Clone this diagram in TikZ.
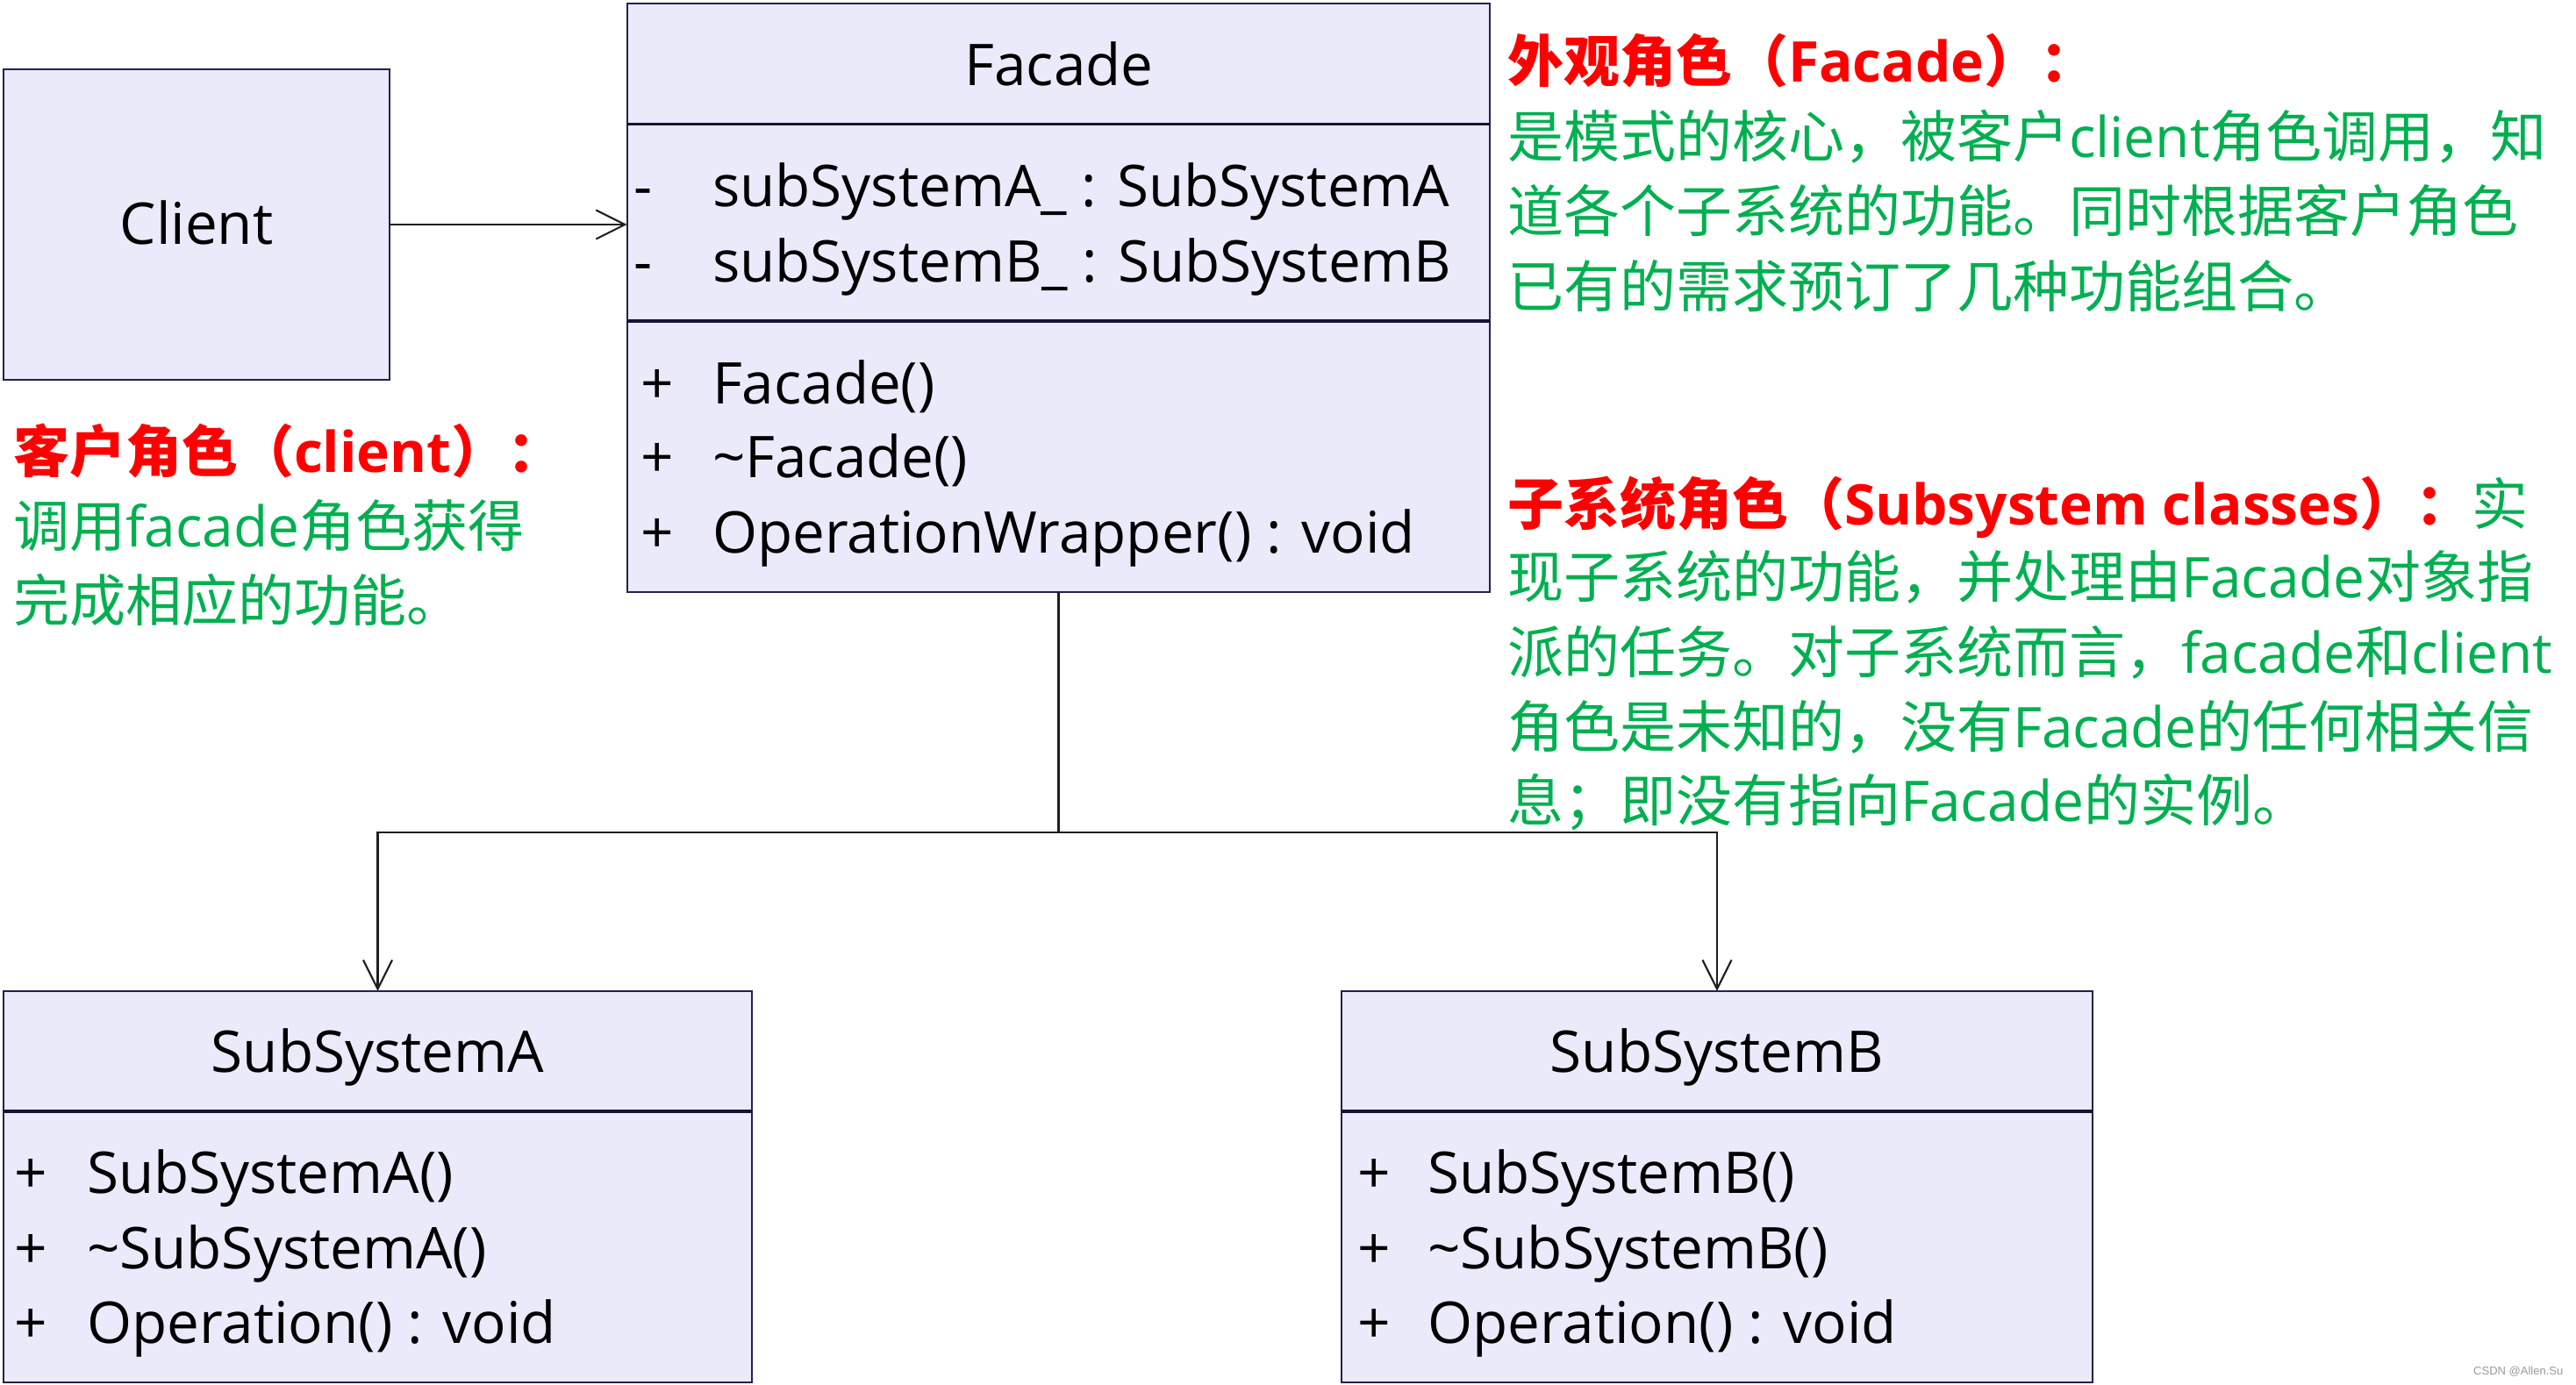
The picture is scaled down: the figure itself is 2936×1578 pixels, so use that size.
\documentclass[tikz,border=0pt]{standalone}
\usepackage{fontspec}
\setmainfont{Open Sans}
\newfontfamily\cjk{Noto Sans CJK SC}
\newfontfamily\latf{Open Sans}
\newfontfamily\wmfont{Liberation Sans}
\usetikzlibrary{arrows.meta}
\definecolor{boxfill}{HTML}{EAEAFB}
\definecolor{boxline}{HTML}{22224E}
\definecolor{divline}{HTML}{141438}
\definecolor{connc}{HTML}{1E1E1E}
\definecolor{tred}{HTML}{FF0000}
\definecolor{tgreen}{HTML}{00B050}
\definecolor{wmgray}{HTML}{9A9A9A}
\newcommand\lat[1]{{\latf #1}}
\begin{document}
\begin{tikzpicture}[x=0.01cm,y=-0.01cm,
  umlbox/.style={draw=boxline, fill=boxfill, line width=0.6pt, inner sep=0pt, outer sep=0pt},
  divider/.style={draw=divline, line width=0.9pt},
  boxtext/.style={font=\fontsize{18.65pt}{22pt}\selectfont, inner sep=0pt, outer sep=0pt, text=black},
  lbl/.style={boxtext, anchor=base west},
  conn/.style={draw=connc, line width=0.6pt},
  openarrow/.style={conn, -{Straight Barb[length=9.4pt, width=9.4pt, line width=0.6pt]}},
  nbody/.style={font=\cjk\fontsize{18.2pt}{24.5pt}\selectfont, anchor=base west, inner sep=0pt, outer sep=0pt, text=tgreen},
  ntitle/.style={font=\cjk\bfseries\fontsize{18.2pt}{24.5pt}\selectfont, anchor=base west, inner sep=0pt, outer sep=0pt, text=tred},
]
\useasboundingbox (0,0) rectangle (2936,1578);
\fill[white] (0,0) rectangle (2936,1578);

% Client
\node[umlbox, minimum width=4.40cm, minimum height=3.54cm] (client) at (224,256) {};
\node[boxtext, anchor=base] (clientname) at (224,278) {Client};

% Facade
\node[umlbox, minimum width=9.83cm, minimum height=6.71cm] (facade) at (1206.5,339.5) {};
\draw[divider] ([yshift=-1.38cm]facade.north west) -- ([yshift=-1.38cm]facade.north east);
\draw[divider] ([yshift=-3.62cm]facade.north west) -- ([yshift=-3.62cm]facade.north east);
\node[boxtext, anchor=base] (facadename) at (1207,97) {Facade};
\node[lbl] (fa1s) at (722,235) {-};
\node[lbl] (fa1) at (812,235) {subSystemA\_ : SubSystemA};
\node[lbl] (fa2s) at (722,321) {-};
\node[lbl] (fa2) at (812,321) {subSystemB\_ : SubSystemB};
\node[lbl] (fm1s) at (730,460) {+};
\node[lbl] (fm1) at (812,460) {Facade()};
\node[lbl] (fm2s) at (730,544) {+};
\node[lbl] (fm2) at (812,544) {\textasciitilde Facade()};
\node[lbl] (fm3s) at (730,630) {+};
\node[lbl] (fm3) at (812,630) {OperationWrapper() : void};

% SubSystemA
\node[umlbox, minimum width=8.53cm, minimum height=4.46cm] (subA) at (430.5,1353) {};
\draw[divider] ([yshift=-1.37cm]subA.north west) -- ([yshift=-1.37cm]subA.north east);
\node[boxtext, anchor=base] (subAname) at (430.5,1222) {SubSystemA};
\node[lbl] (am1s) at (17,1360) {+};
\node[lbl] (am1) at (99,1360) {SubSystemA()};
\node[lbl] (am2s) at (17,1446) {+};
\node[lbl] (am2) at (99,1446) {\textasciitilde SubSystemA()};
\node[lbl] (am3s) at (17,1531) {+};
\node[lbl] (am3) at (99,1531) {Operation() : void};

% SubSystemB
\node[umlbox, minimum width=8.56cm, minimum height=4.46cm] (subB) at (1957,1353) {};
\draw[divider] ([yshift=-1.37cm]subB.north west) -- ([yshift=-1.37cm]subB.north east);
\node[boxtext, anchor=base] (subBname) at (1957,1222) {SubSystemB};
\node[lbl] (bm1s) at (1547,1360) {+};
\node[lbl] (bm1) at (1627,1360) {SubSystemB()};
\node[lbl] (bm2s) at (1547,1446) {+};
\node[lbl] (bm2) at (1627,1446) {\textasciitilde SubSystemB()};
\node[lbl] (bm3s) at (1547,1531) {+};
\node[lbl] (bm3) at (1627,1531) {Operation() : void};

% connectors
\draw[openarrow] (client.east) -- (client.east -| facade.west);
\coordinate (bus) at (facade.south |- 0,949);
\draw[conn] (facade.south) -- (bus);
\draw[openarrow] (bus) -| (subA.north);
\draw[openarrow] (bus) -| (subB.north);

% Facade note
\node[ntitle] (ft) at (1718,93) {外观角色（\lat{Facade}）：};
\node[nbody] (f1) at (1718,179) {是模式的核心，被客户\lat{client}角色调用，知};
\node[nbody] (f2) at (1718,264) {道各个子系统的功能。同时根据客户角色};
\node[nbody] (f3) at (1718,350) {已有的需求预订了几种功能组合。};

% Subsystem note
\node[ntitle] (st) at (1718,598) {子系统角色（\lat{Subsystem classes}）：{\mdseries\color{tgreen}实}};
\node[nbody] (s1) at (1718,681) {现子系统的功能，并处理由\lat{Facade}对象指};
\node[nbody] (s2) at (1718,767) {派的任务。对子系统而言，\lat{facade}和\lat{client}};
\node[nbody] (s3) at (1718,852) {角色是未知的，没有\lat{Facade}的任何相关信};
\node[nbody] (s4) at (1718,936) {息；即没有指向\lat{Facade}的实例。};

% Client note
\node[ntitle] (ct) at (15,538) {客户角色（\lat{client}）：};
\node[nbody] (c1) at (15,623) {调用\lat{facade}角色获得};
\node[nbody] (c2) at (15,708) {完成相应的功能。};

% watermark
\node[font=\wmfont\fontsize{3.7pt}{4pt}\selectfont, text=wmgray, anchor=base east, inner sep=0pt] (wm) at (2922,1567) {CSDN @Allen.Su};
\end{tikzpicture}
\end{document}
